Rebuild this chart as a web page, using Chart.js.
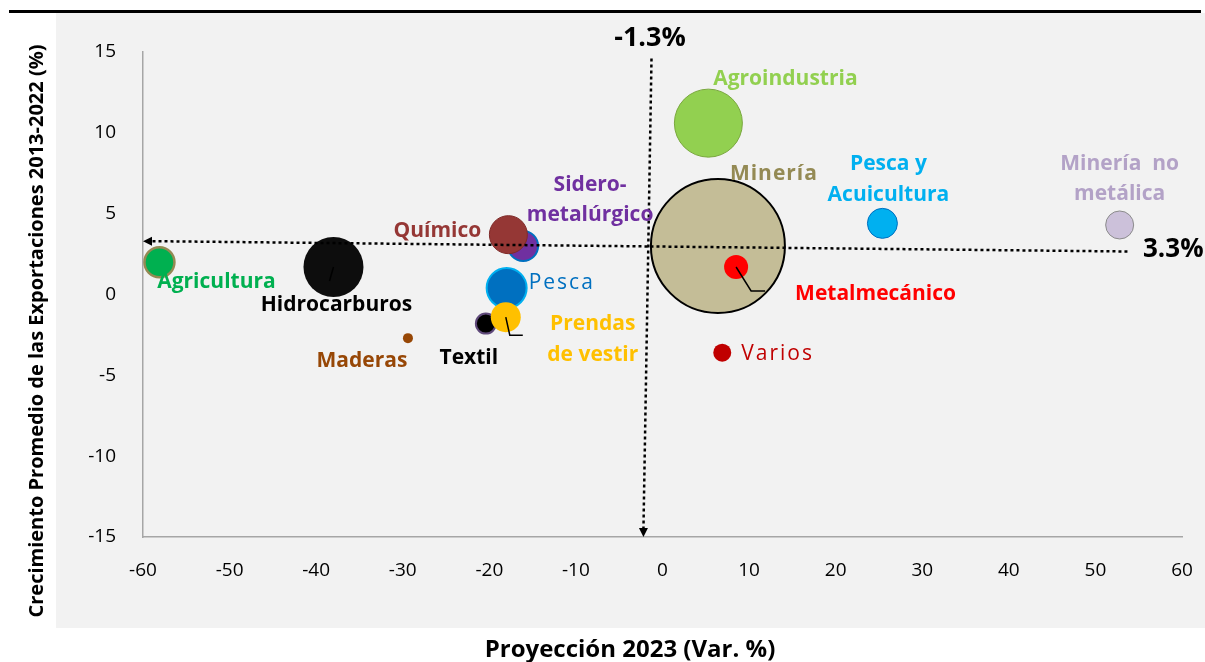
<!DOCTYPE html>
<html>
<head>
<meta charset="utf-8">
<script src="https://cdn.jsdelivr.net/npm/chart.js@4.4.0/dist/chart.umd.min.js"></script>
<style>
html,body{margin:0;padding:0;background:#fff}
#wrap{width:1205px;height:662px}
</style>
</head>
<body>
<div id="wrap"><canvas id="c" width="1205" height="662"></canvas></div>
<script>
// datos
var sectores = ['Minería','Agroindustria','Metalmecánico','Varios','Pesca y Acuicultura','Minería no metálica','Agricultura','Hidrocarburos','Maderas','Sidero-metalúrgico','Químico','Pesca','Textil','Prendas de vestir'];
var proyeccion2023 = [6.4, 5.3, 8.5, 6.9, 25.4, 52.8, -58.1, -38.0, -29.4, -16.1, -17.8, -18.0, -20.4, -18.1];
var crecimiento = [3.0, 10.6, 1.7, -3.6, 4.4, 4.3, 2.0, 1.7, -2.7, 3.0, 3.7, 0.4, -1.8, -1.4];
var tamano = [67, 34, 12, 9, 15, 14, 15, 30, 5, 15, 19, 20, 10, 15];
var xTicks = [-60,-50,-40,-30,-20,-10,0,10,20,30,40,50,60];
var yTicks = [-15,-10,-5,0,5,10,15];
var promedioX = -1.3;
var promedioY = 3.3;
// extremos de las flechas punteadas (un poco inclinadas en el original)
var lineaH = {x:[-60, 53.7], y:[promedioY, 2.66]};
var lineaV = {x:[-1.27, -2.2], y:[14.6, -15]};

// estilos
var relleno = ['#c4bd97','#92d050','#ff0000','#c00000','#00b0f0','#ccc1da','#00b050','#0d0d0d','#974706','#7030a0','#953735','#0070c0','#000000','#ffc000'];
var borde = ['#000000','#7aa83f','#ff0000','#c00000','#0070c0','#8c8c8c','#948a54','#0d0d0d','#974706','#0070c0','#7f2b29','#00b0f0','#5f497a','#ffc000'];
var grosor = [2,1,0,0,1,1,2.5,0,0,2,1,2,2,0];
var colorTexto = ['#948a54','#92d050','#ff0000','#c00000','#00b0f0','#b3a2c7','#00b050','#000000','#974706','#7030a0','#953735','#0070c0','#000000','#ffc000'];
var lineasTexto = [['Minería'],['Agroindustria'],['Metalmecánico'],['Varios'],['Pesca y','Acuicultura'],['Minería  no','metálica'],['Agricultura'],['Hidrocarburos'],['Maderas'],['Sidero-','metalúrgico'],['Químico'],['Pesca'],['Textil'],['Prendas','de vestir']];
// desplazamiento de la etiqueta respecto al centro de la burbuja (px)
var posTexto = [[56,-72,'c'],[77,-44,'c'],[59,27,'l'],[19,1,'l'],[6,-59,'c'],[0,-61,'c'],[57,20,'c'],[3,38,'c'],[-46,23,'c'],[67,-61,'c'],[-71,-4,'c'],[22,-5,'l'],[-17,34,'c'],[87,7,'c']];
var espaciado = [1,0,0,2,0,0,0,0,0,0,0,2,0,0];
var guias = {2:[[0,0],[15,24],[29,24]], 7:[[-4,14],[0,0]], 13:[[0,0],[4,18],[17,18]]};

var puntos = [];
for (var i=0;i<sectores.length;i++){
    puntos.push({x:proyeccion2023[i], y:crecimiento[i], r:tamano[i]});
}

var FUENTE = '"Open Sans"';

function flecha(ctx, x, y, dir){
    ctx.beginPath();
    if (dir=='izq'){ ctx.moveTo(x,y); ctx.lineTo(x+9,y-4.5); ctx.lineTo(x+9,y+4.5); }
    else { ctx.moveTo(x,y); ctx.lineTo(x-4.5,y-9); ctx.lineTo(x+4.5,y-9); }
    ctx.closePath();
    ctx.fill();
}

var decoracion = {
    id:'decoracion',
    beforeDraw:function(chart){
        var ctx = chart.ctx;
        ctx.save();
        ctx.fillStyle = '#ffffff';
        ctx.fillRect(0,0,1205,662);
        ctx.fillStyle = '#f2f2f2';
        ctx.fillRect(56,13,1149,615);
        ctx.fillStyle = '#000';
        ctx.fillRect(9,10,1192,3);
        ctx.restore();
    },
    afterDatasetsDraw:function(chart){
        var ctx = chart.ctx, xs = chart.scales.x, ys = chart.scales.y;
        ctx.save();
        // lineas punteadas de promedio
        ctx.strokeStyle = '#000';
        ctx.fillStyle = '#000';
        ctx.lineWidth = 2.5;
        ctx.setLineDash([3,3]);
        var hx0 = xs.getPixelForValue(lineaH.x[0]), hy0 = ys.getPixelForValue(lineaH.y[0]);
        var hx1 = xs.getPixelForValue(lineaH.x[1]), hy1 = ys.getPixelForValue(lineaH.y[1]);
        ctx.beginPath(); ctx.moveTo(hx1,hy1); ctx.lineTo(hx0+8,hy0); ctx.stroke();
        var vx0 = xs.getPixelForValue(lineaV.x[0]), vy0 = ys.getPixelForValue(lineaV.y[0]);
        var vx1 = xs.getPixelForValue(lineaV.x[1]), vy1 = ys.getPixelForValue(lineaV.y[1]);
        ctx.beginPath(); ctx.moveTo(vx0,vy0); ctx.lineTo(vx1,vy1-8); ctx.stroke();
        ctx.setLineDash([]);
        flecha(ctx,hx0,hy0,'izq');
        flecha(ctx,vx1,vy1,'abajo');

        // lineas guia
        ctx.lineWidth = 1.5;
        ctx.strokeStyle = '#000';
        for (var k in guias){
            var cx = xs.getPixelForValue(proyeccion2023[k]), cy = ys.getPixelForValue(crecimiento[k]);
            ctx.beginPath();
            guias[k].forEach(function(p,j){
                if (j==0) ctx.moveTo(cx+p[0],cy+p[1]); else ctx.lineTo(cx+p[0],cy+p[1]);
            });
            ctx.stroke();
        }

        // etiquetas de sectores
        ctx.textBaseline = 'middle';
        for (var i=0;i<sectores.length;i++){
            var px = xs.getPixelForValue(proyeccion2023[i]) + posTexto[i][0];
            var py = ys.getPixelForValue(crecimiento[i]) + posTexto[i][1];
            var negrita = espaciado[i]==2 ? '' : 'bold ';
            ctx.font = negrita + '21px ' + FUENTE;
            ctx.fillStyle = colorTexto[i];
            ctx.letterSpacing = espaciado[i] + 'px';
            ctx.textAlign = posTexto[i][2]=='l' ? 'left' : 'center';
            lineasTexto[i].forEach(function(t,j){
                ctx.fillText(t, px, py + j*30.5);
            });
        }
        ctx.letterSpacing = '0px';

        // valores promedio
        ctx.fillStyle = '#000';
        ctx.font = 'bold 27px ' + FUENTE;
        ctx.textAlign = 'center';
        ctx.fillText(promedioX.toFixed(1)+'%', 650, 38);
        ctx.font = 'bold 26px ' + FUENTE;
        ctx.textAlign = 'left';
        ctx.fillText(promedioY.toFixed(1)+'%', 1143, 250);

        // titulos de ejes
        ctx.font = 'bold 24px ' + FUENTE;
        ctx.textAlign = 'center';
        ctx.fillText('Proyección 2023 (Var. %)', 630, 650);
        ctx.translate(37, 331);
        ctx.rotate(-Math.PI/2);
        ctx.font = 'bold 20px ' + FUENTE;
        ctx.fillText('Crecimiento Promedio de las Exportaciones 2013-2022 (%)', 0, 0);
        ctx.restore();
    }
};

var grafico = new Chart(document.getElementById('c'), {
    type:'bubble',
    data:{
        datasets:[{
            label:'Sectores',
            data:puntos,
            backgroundColor:relleno,
            borderColor:borde,
            borderWidth:grosor,
            clip:false
        }]
    },
    options:{
        responsive:false,
        animation:false,
        devicePixelRatio:1,
        events:[],
        layout:{autoPadding:false, padding:{left:0,right:23,top:52,bottom:0}},
        plugins:{legend:{display:false},tooltip:{enabled:false}},
        scales:{
            x:{
                type:'linear', min:-60, max:60,
                afterBuildTicks:function(s){ s.ticks = xTicks.map(function(v){return {value:v};}); },
                afterFit:function(s){ s.height = 125; s.paddingLeft = 0; s.paddingRight = 0; },
                grid:{display:false, drawTicks:false},
                border:{display:true, color:'#a6a6a6', width:1.5},
                ticks:{padding:22, color:'#000', font:{family:'Open Sans', size:19}}
            },
            y:{
                type:'linear', min:-15, max:15,
                afterBuildTicks:function(s){ s.ticks = yTicks.map(function(v){return {value:v};}); },
                afterFit:function(s){ s.width = 143; s.paddingTop = 0; s.paddingBottom = 0; },
                grid:{display:false, drawTicks:false},
                border:{display:true, color:'#a6a6a6', width:1.5},
                ticks:{padding:27, color:'#000', font:{family:'Open Sans', size:19}}
            }
        }
    },
    plugins:[decoracion]
});
</script>
</body>
</html>
